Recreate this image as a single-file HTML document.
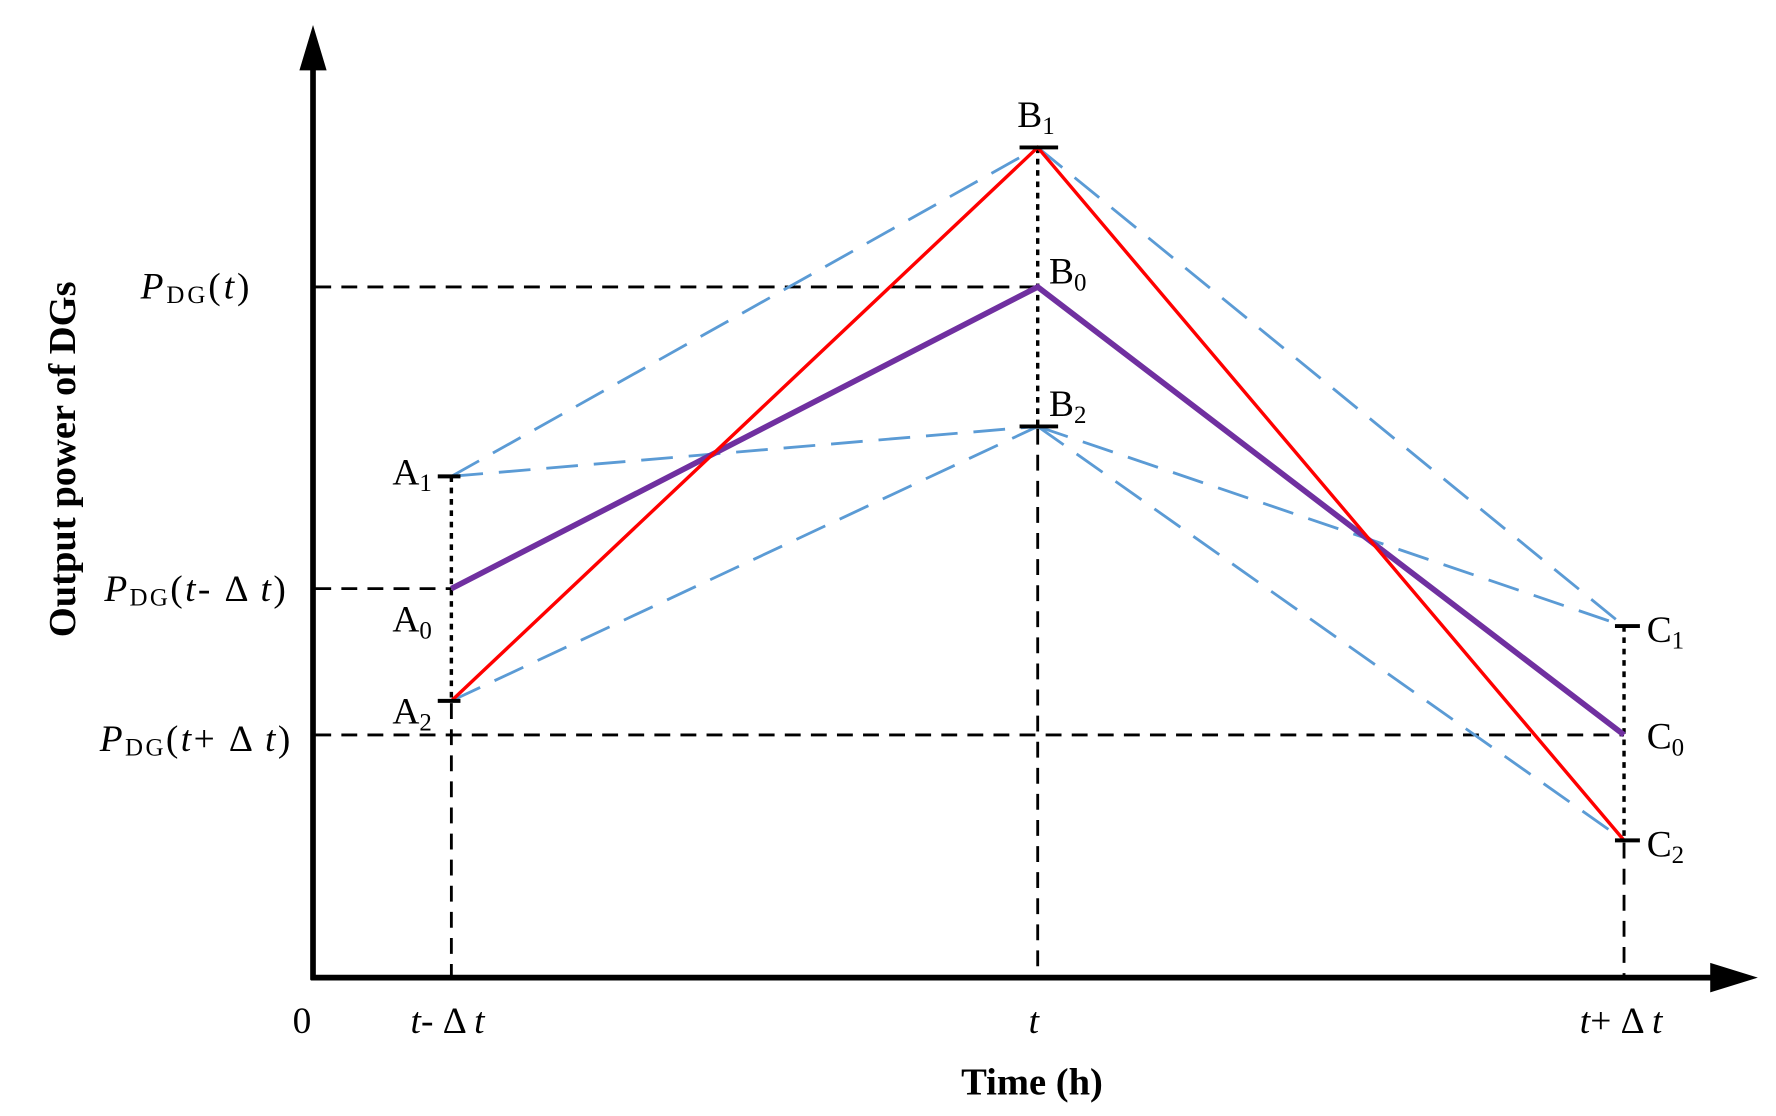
<!DOCTYPE html>
<html><head><meta charset="utf-8"><style>
html,body{margin:0;padding:0;background:#fff;}
svg{display:block;}
text{font-family:"Liberation Serif",serif;fill:#000;}
</style></head><body>
<svg width="1776" height="1116" viewBox="0 0 1566 984" preserveAspectRatio="none" xmlns="http://www.w3.org/2000/svg">
<g stroke="#000" stroke-width="2.5" stroke-dasharray="14,9" fill="none">
<line x1="278" y1="253" x2="915" y2="253"/>
<line x1="278" y1="519" x2="398" y2="519"/>
<line x1="278" y1="648" x2="1432" y2="648"/>
<line x1="398" y1="620" x2="398" y2="860"/>
<line x1="915" y1="378" x2="915" y2="860"/>
<line x1="1432" y1="743" x2="1432" y2="860"/>
</g>
<g stroke="#000" stroke-width="3" stroke-dasharray="5,5" fill="none">
<line x1="398" y1="420" x2="398" y2="618"/>
<line x1="915" y1="130" x2="915" y2="376"/>
<line x1="1432" y1="552" x2="1432" y2="741"/>
</g>
<g stroke="#5b9bd5" stroke-width="2.5" stroke-dasharray="28,14" fill="none">
<line x1="398" y1="420" x2="915" y2="130"/>
<line x1="398" y1="420" x2="915" y2="376"/>
<line x1="398" y1="618" x2="915" y2="376"/>
<line x1="915" y1="130" x2="1432" y2="552"/>
<line x1="915" y1="376" x2="1432" y2="552"/>
<line x1="915" y1="376" x2="1432" y2="741"/>
</g>
<polyline points="398,519 915,253 1432,648" stroke="#7030a0" stroke-width="5" fill="none"/>
<polyline points="398,618 915,130 1432,741" stroke="#ff0000" stroke-width="3" fill="none"/>
<g stroke="#000" stroke-width="3.5">
<line x1="899" y1="130" x2="933" y2="130"/>
<line x1="899" y1="376" x2="933" y2="376"/>
<line x1="386" y1="420" x2="406" y2="420"/>
<line x1="386" y1="618" x2="406" y2="618"/>
<line x1="1424" y1="552" x2="1446" y2="552"/>
<line x1="1424" y1="741" x2="1446" y2="741"/>
</g>
<line x1="276" y1="45" x2="276" y2="864" stroke="#000" stroke-width="5"/>
<polygon points="276,22 264,62 288,62" fill="#000"/>
<line x1="274" y1="862" x2="1515" y2="862" stroke="#000" stroke-width="5"/>
<polygon points="1550,862 1508,849 1508,875" fill="#000"/>
<g font-size="33">
<text x="897" y="112">B<tspan font-size="22" dy="6">1</tspan></text>
<text x="925" y="250">B<tspan font-size="22" dy="6">0</tspan></text>
<text x="925" y="367">B<tspan font-size="22" dy="6">2</tspan></text>
<text x="346" y="427">A<tspan font-size="22" dy="6">1</tspan></text>
<text x="346" y="557">A<tspan font-size="22" dy="6">0</tspan></text>
<text x="346" y="638">A<tspan font-size="22" dy="6">2</tspan></text>
<text x="1452" y="566">C<tspan font-size="22" dy="6">1</tspan></text>
<text x="1452" y="660">C<tspan font-size="22" dy="6">0</tspan></text>
<text x="1452" y="755">C<tspan font-size="22" dy="6">2</tspan></text>
<text x="124" y="263" textLength="96"><tspan font-style="italic">P</tspan><tspan font-size="22" dy="4">DG</tspan><tspan dy="-4">(</tspan><tspan font-style="italic">t</tspan>)</text>
<text x="92" y="530" textLength="160"><tspan font-style="italic">P</tspan><tspan font-size="22" dy="4">DG</tspan><tspan dy="-4">(</tspan><tspan font-style="italic">t</tspan>- Δ <tspan font-style="italic">t</tspan>)</text>
<text x="88" y="662" textLength="168"><tspan font-style="italic">P</tspan><tspan font-size="22" dy="4">DG</tspan><tspan dy="-4">(</tspan><tspan font-style="italic">t</tspan>+ Δ <tspan font-style="italic">t</tspan>)</text>
<text x="258" y="911">0</text>
<text x="362" y="911"><tspan font-style="italic">t</tspan>- Δ <tspan font-style="italic">t</tspan></text>
<text x="907" y="911" font-style="italic">t</text>
<text x="1393" y="911"><tspan font-style="italic">t</tspan>+ Δ <tspan font-style="italic">t</tspan></text>
</g>
<text x="910" y="965" font-size="34" font-weight="bold" text-anchor="middle">Time (h)</text>
<text transform="translate(66,405) rotate(-90)" font-size="34" font-weight="bold" text-anchor="middle">Output power of DGs</text>
</svg>
</body></html>
